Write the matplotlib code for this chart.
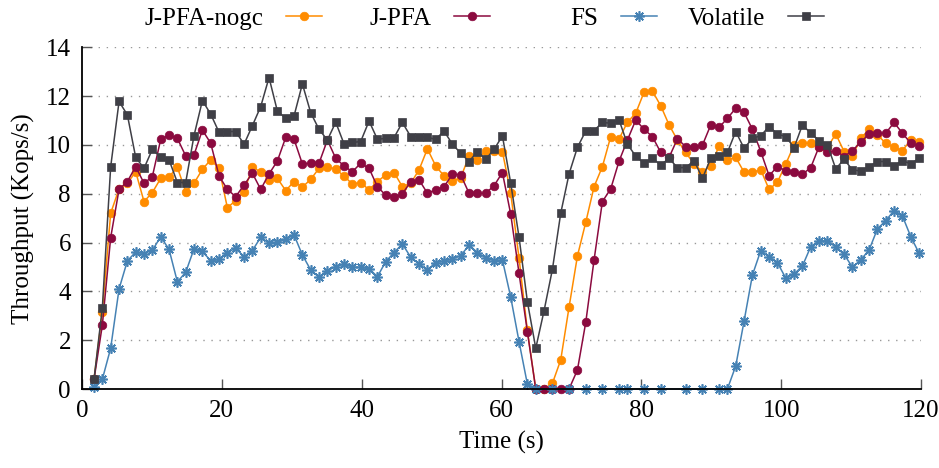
import numpy as np
import matplotlib
matplotlib.use("Agg")
import matplotlib.pyplot as plt

# ---- data -------------------------------------------------------------
n_samples = 100
time_s = np.round(1.72 + 1.192 * np.arange(n_samples), 2)

jpfa_nogc = [0.4, 3.17, 7.2, 8.2, 8.43, 8.9, 7.68, 8.05, 8.63, 8.7,
             9.08, 8.09, 8.43, 9.0, 9.39, 9.04, 7.43, 7.72, 8.09, 9.08,
             8.9, 8.57, 8.63, 8.13, 8.5, 8.27, 8.59, 9.04, 9.11, 9.0,
             8.73, 8.39, 8.46, 8.16, 8.5, 8.77, 8.87, 8.29, 8.43, 8.98,
             9.84, 9.14, 8.73, 8.52, 8.66, 9.55, 9.39, 9.77, 9.75, 9.73,
             8.02, 5.36, 2.4, 0.0, 0.0, 0.23, 1.19, 3.35, 5.45, 6.83,
             8.29, 9.11, 10.34, 10.25, 10.93, 11.3, 12.16, 12.21, 11.6, 10.82,
             10.2, 9.69, 9.22, 8.9, 9.14, 9.96, 9.39, 9.49, 8.88, 8.88,
             8.98, 8.18, 8.47, 9.22, 10.0, 10.07, 10.07, 9.9, 9.9, 10.45,
             9.73, 9.55, 10.27, 10.64, 10.41, 10.07, 9.9, 9.77, 10.2, 10.1]

jpfa = [0.4, 2.62, 6.2, 8.18, 8.5, 9.11, 8.43, 8.7, 10.23, 10.41,
        10.27, 9.55, 9.59, 10.61, 10.07, 8.73, 8.18, 7.88, 8.36, 8.84,
        8.18, 8.81, 9.34, 10.31, 10.23, 9.22, 9.25, 9.25, 10.2, 9.45,
        9.14, 8.9, 9.25, 9.04, 8.29, 7.94, 7.86, 7.99, 8.5, 8.57,
        8.02, 8.16, 8.29, 8.8, 8.77, 8.02, 8.02, 8.02, 8.33, 8.87,
        7.16, 4.74, 2.35, 0.0, 0.0, 0.0, 0.0, 0.0, 0.78, 2.73,
        5.29, 7.68, 8.2, 9.34, 10.2, 11.02, 10.64, 10.34, 9.69, 9.49,
        10.25, 9.93, 9.93, 9.99, 10.82, 10.72, 11.09, 11.5, 11.33, 10.64,
        9.73, 8.74, 9.11, 8.95, 8.9, 8.8, 9.07, 9.93, 9.69, 9.77,
        9.52, 9.77, 10.11, 10.45, 10.48, 10.48, 10.92, 10.48, 10.07, 9.96]

# None = no sample recorded at that time
fs = [0.1, 0.4, 1.67, 4.1, 5.25, 5.61, 5.55, 5.68, 6.24, 5.72,
      4.39, 4.78, 5.74, 5.64, 5.25, 5.31, 5.59, 5.77, 5.42, 5.67,
      6.22, 5.97, 6.01, 6.13, 6.31, 5.49, 4.88, 4.58, 4.85, 5.01,
      5.12, 4.99, 4.99, 4.93, 4.6, 5.22, 5.59, 5.94, 5.4, 5.12,
      4.88, 5.18, 5.25, 5.33, 5.46, 5.9, 5.59, 5.36, 5.26, 5.29,
      3.76, 1.94, 0.2, 0.0, None, 0.0, None, 0.0, None, 0.0,
      None, 0.0, None, 0.0, 0.0, None, 0.0, None, 0.0, None,
      None, 0.0, None, 0.0, None, 0.0, 0.0, 0.94, 2.79, 4.67,
      5.67, 5.42, 5.18, 4.54, 4.71, 5.04, 5.83, 6.07, 6.07, 5.81,
      5.52, 4.99, 5.29, 5.7, 6.56, 6.9, 7.31, 7.09, 6.24, 5.56]

volatile = [0.4, 3.33, 9.1, 11.78, 11.23, 9.49, 9.04, 9.82, 9.49, 9.39,
            8.46, 8.46, 10.38, 11.82, 11.26, 10.52, 10.55, 10.55, 10.03, 10.79,
            11.57, 12.76, 11.39, 11.09, 11.19, 12.5, 11.32, 10.64, 10.2, 10.93,
            10.04, 10.1, 10.14, 10.98, 10.23, 10.27, 10.3, 10.92, 10.34, 10.34,
            10.31, 10.23, 10.57, 10.03, 9.66, 9.32, 9.73, 9.41, 9.82, 10.37,
            8.43, 6.22, 3.58, 1.67, 3.21, 4.9, 7.2, 8.81, 9.9, 10.57,
            10.59, 10.92, 10.89, 11.02, 10.03, 9.54, 9.25, 9.45, 9.18, 9.45,
            9.07, 9.07, 9.36, 8.63, 9.45, 9.55, 9.69, 10.55, 9.86, 10.27,
            10.38, 10.75, 10.45, 10.34, 9.89, 10.82, 10.48, 10.18, 10.0, 9.02,
            9.41, 8.98, 8.93, 9.11, 9.32, 9.32, 9.14, 9.36, 9.22, 9.45]

labels = ["J-PFA-nogc", "J-PFA", "FS", "Volatile"]
x_ticks = [0, 20, 40, 60, 80, 100, 120]
y_ticks = [0, 2, 4, 6, 8, 10, 12, 14]

# ---- style ------------------------------------------------------------
plt.rcParams['font.family'] = ['Liberation Serif', 'DejaVu Serif']
FS_ = 18

colors = ["#ff8c00", "#8b0a3f", "#4682b4", "#3f3f46"]
markers = ["o", "o", (8, 2, 0), "s"]
msizes = [6.2, 6.2, 7.5, 6.0]

fig = plt.figure(figsize=(9.39, 4.68), dpi=100)
ax = fig.add_axes([82 / 939, 1 - 389 / 468, (921 - 82) / 939, (389 - 47.3) / 468])

series = [jpfa_nogc, jpfa, fs, volatile]
handles = []
for vals, c, m, ms, lab in zip(series, colors, markers, msizes, labels):
    y = np.array([np.nan if v is None else v for v in vals], dtype=float)
    ok = ~np.isnan(y)
    mew = 1.2 if lab == "FS" else 0.5
    h, = ax.plot(time_s[ok], y[ok], color=c, marker=m, markersize=ms, lw=1.1,
                 markeredgewidth=mew, markeredgecolor=c, label=lab, clip_on=False)
    handles.append(h)

ax.set_xlim(0, 120)
ax.set_ylim(0, 14)
ax.set_xticks(x_ticks)
ax.set_yticks(y_ticks)
ax.tick_params(axis='both', direction='in', length=7, width=1.0, colors='#555555',
               labelcolor='black', labelsize=FS_)
ax.tick_params(axis='x', pad=8)
ax.tick_params(axis='y', pad=8)
for side in ['top', 'right']:
    ax.spines[side].set_visible(False)
for side in ['left', 'bottom']:
    ax.spines[side].set_linewidth(1.3)
    ax.spines[side].set_color('black')

ax.yaxis.grid(True, linestyle=(0, (1, 4.8)), color='#999999', lw=1.0)
ax.set_axisbelow(True)

ax.set_xlabel("Time (s)", fontsize=FS_, labelpad=6)
ax.set_ylabel("Throughput (Kops/s)", fontsize=FS_, labelpad=8)

# legend: four single-entry legends, text left of sample like gnuplot
right_edges_px = [322, 490, 657, 824]
for h, lab, rx in zip(handles, labels, right_edges_px):
    fig.legend([h], [lab], loc='center right',
               bbox_to_anchor=(rx / 939, 1 - 18.5 / 468),
               bbox_transform=fig.transFigure, frameon=False,
               markerfirst=False, handlelength=1.45, handletextpad=0.9,
               borderpad=0, borderaxespad=0, fontsize=FS_)

fig.savefig("out.png", dpi=100)
